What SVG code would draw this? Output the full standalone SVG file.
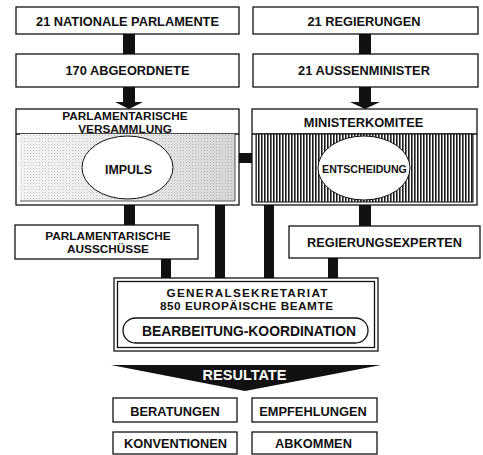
<svg xmlns="http://www.w3.org/2000/svg" width="483" height="455" viewBox="0 0 483 455">
<style>
.box{fill:#fff;stroke:#111;stroke-width:1.3}
.t{font-family:"Liberation Sans",Arial,Helvetica,sans-serif;font-weight:bold;font-size:12.8px;fill:#111;text-anchor:middle}
.t2{font-size:11.8px}
.bar{fill:#111}
.ell{fill:#fff;stroke:#111;stroke-width:1}
</style>
<defs>
<linearGradient id="gr" x1="0" y1="0" x2="1" y2="0">
<stop offset="0" stop-color="#f8f8f8"/>
<stop offset="0.5" stop-color="#eeeeee"/>
<stop offset="1" stop-color="#d8d8d8"/>
</linearGradient>
<pattern id="dots" width="3" height="3" patternUnits="userSpaceOnUse">
<rect x="0" y="0" width="1" height="1" fill="#888" opacity="0.5"/>
<rect x="1.5" y="1.5" width="1" height="1" fill="#aaa" opacity="0.35"/>
</pattern>
<pattern id="stripes" width="3" height="4" patternUnits="userSpaceOnUse">
<rect x="0" y="0" width="1.6" height="4" fill="#1a1a1a"/>
</pattern>
</defs>
<rect width="483" height="455" fill="#fff"/>

<g id="connectors">
<rect class="bar" x="123" y="34" width="12" height="20"/>
<rect class="bar" x="359" y="34" width="12" height="20"/>
<rect class="bar" x="123" y="87" width="12" height="15"/>
<polygon class="bar" points="115,102 143,102 129,109"/>
<rect class="bar" x="359" y="87" width="12" height="15"/>
<polygon class="bar" points="350,102 380,102 365,109"/>
<rect class="bar" x="239" y="153" width="14" height="10"/>
<rect class="bar" x="124" y="205" width="11" height="20"/>
<rect class="bar" x="215" y="205" width="10" height="73"/>
<rect class="bar" x="264" y="205" width="10" height="73"/>
<rect class="bar" x="359" y="205" width="12" height="21"/>
<rect class="bar" x="161" y="259" width="10" height="19"/>
<rect class="bar" x="328" y="258" width="10" height="20"/>
</g>

<g id="nationale-parlamente">
<rect class="box" x="16" y="7" width="223" height="27"/>
<text class="t" x="127.5" y="25.5">21 NATIONALE PARLAMENTE</text>
</g>
<g id="regierungen">
<rect class="box" x="253" y="7" width="225" height="27"/>
<text class="t" x="364" y="25.5">21 REGIERUNGEN</text>
</g>
<g id="abgeordnete">
<rect class="box" x="16" y="54" width="223" height="33"/>
<text class="t" x="127.5" y="75">170 ABGEORDNETE</text>
</g>
<g id="aussenminister">
<rect class="box" x="253" y="54" width="225" height="33"/>
<text class="t" x="364" y="75">21 AUSSENMINISTER</text>
</g>

<g id="parlamentarische-versammlung">
<rect class="box" x="16" y="109" width="223" height="96"/>
<line x1="16" y1="134" x2="239" y2="134" stroke="#111" stroke-width="1.3"/>
<rect x="20" y="134" width="215" height="67" fill="url(#gr)"/>
<rect x="20" y="134" width="215" height="67" fill="url(#dots)"/>
<path d="M20,201 H235 V134" fill="none" stroke="#444" stroke-width="0.9"/>
<text class="t t2" x="125" y="119.7">PARLAMENTARISCHE</text>
<text class="t t2" x="125" y="132.6">VERSAMMLUNG</text>
<ellipse class="ell" cx="127.5" cy="167.5" rx="45.5" ry="31.5"/>
<text class="t" x="128.5" y="174" style="font-size:12.4px">IMPULS</text>
</g>

<g id="ministerkomitee">
<rect class="box" x="252" y="109" width="225" height="96"/>
<line x1="252" y1="134" x2="477" y2="134" stroke="#111" stroke-width="1.3"/>
<rect x="256" y="134" width="217" height="68" fill="#fff"/>
<rect x="256" y="134" width="217" height="68" fill="url(#stripes)"/>
<rect x="256" y="134" width="217" height="68" fill="none" stroke="#111" stroke-width="1"/>
<text class="t" x="363.5" y="127">MINISTERKOMITEE</text>
<ellipse class="ell" cx="364" cy="168" rx="46" ry="32"/>
<text class="t" x="364.5" y="173" style="font-size:10.6px">ENTSCHEIDUNG</text>
</g>

<g id="parlamentarische-ausschuesse">
<rect class="box" x="15" y="225" width="183" height="34"/>
<text class="t t2" x="108" y="240">PARLAMENTARISCHE</text>
<text class="t t2" x="108" y="252.8">AUSSCHÜSSE</text>
</g>

<g id="regierungsexperten">
<rect class="box" x="289" y="226" width="191" height="32"/>
<text class="t" x="384.5" y="247">REGIERUNGSEXPERTEN</text>
</g>

<g id="generalsekretariat">
<rect class="box" x="114" y="278" width="264" height="73" stroke-width="1.5"/>
<rect class="box" x="117.5" y="281.5" width="257" height="66" stroke-width="1.1"/>
<text class="t t2" x="247" y="297.3" textLength="161" lengthAdjust="spacing">GENERALSEKRETARIAT</text>
<text class="t t2" x="246.5" y="310" textLength="173" lengthAdjust="spacing">850 EUROPÄISCHE BEAMTE</text>
<rect x="123" y="318" width="245" height="25" rx="12.5" fill="#fff" stroke="#111" stroke-width="1.3"/>
<text class="t" x="249" y="336" style="font-size:14px" textLength="214" lengthAdjust="spacingAndGlyphs">BEARBEITUNG-KOORDINATION</text>
</g>

<g id="resultate">
<polygon points="111,365 381,365 245,391" fill="#111"/>
<text class="t" x="244.5" y="380" style="font-size:14.5px;fill:#fff">RESULTATE</text>
</g>

<g id="beratungen">
<rect class="box" x="113" y="398" width="124" height="24"/>
<text class="t" x="175" y="415.5">BERATUNGEN</text>
</g>
<g id="empfehlungen">
<rect class="box" x="252" y="398" width="125" height="24"/>
<text class="t" x="313" y="415.5">EMPFEHLUNGEN</text>
</g>
<g id="konventionen">
<rect class="box" x="113" y="432" width="124" height="22"/>
<text class="t" x="175.5" y="448">KONVENTIONEN</text>
</g>
<g id="abkommen">
<rect class="box" x="252" y="432" width="125" height="22"/>
<text class="t" x="313.5" y="448">ABKOMMEN</text>
</g>
</svg>
